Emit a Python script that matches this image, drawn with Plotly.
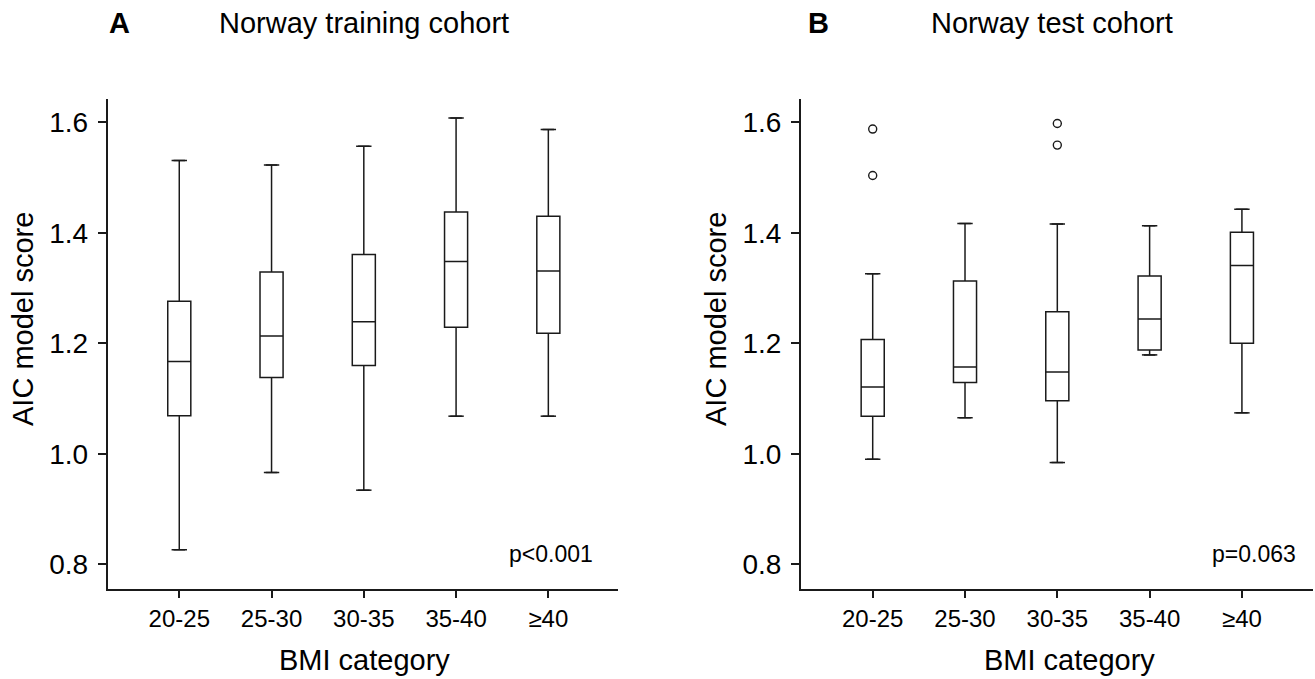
import plotly.graph_objects as go

categories = ["20-25", "25-30", "30-35", "35-40", "≥40"]

# Panel A: Norway training cohort
a_low = [0.826, 0.966, 0.934, 1.068, 1.068]
a_q1 = [1.069, 1.138, 1.160, 1.229, 1.218]
a_med = [1.167, 1.213, 1.239, 1.348, 1.331]
a_q3 = [1.276, 1.329, 1.361, 1.438, 1.430]
a_high = [1.531, 1.523, 1.557, 1.608, 1.587]

# Panel B: Norway test cohort
b_low = [0.990, 1.065, 0.984, 1.179, 1.074]
b_q1 = [1.068, 1.129, 1.096, 1.188, 1.200]
b_med = [1.121, 1.157, 1.148, 1.244, 1.341]
b_q3 = [1.207, 1.313, 1.257, 1.322, 1.401]
b_high = [1.326, 1.417, 1.416, 1.413, 1.443]
b_out_x = ["20-25", "20-25", "30-35", "30-35"]
b_out_y = [1.588, 1.504, 1.598, 1.559]

y_ticks = [0.8, 1.0, 1.2, 1.4, 1.6]
y_ticktext = ["0.8", "1.0", "1.2", "1.4", "1.6"]

W, H = 1315, 679
FONT = "Arial, Liberation Sans, sans-serif"
INK = "#1a1a1a"
TXT = "#000"

def px(x):
    return x / W

def py(y):
    return 1 - y / H

fig = go.Figure()

def add_panel(xa, ya, low, q1, med, q3, high):
    fig.add_trace(go.Box(
        x=categories, q1=q1, median=med, q3=q3,
        lowerfence=low, upperfence=high,
        xaxis=xa, yaxis=ya, width=0.25,
        fillcolor="white", line=dict(color=INK, width=1.5),
        boxpoints=False, showlegend=False, hoverinfo="skip",
    ))
    fig.add_trace(go.Scatter(
        x=categories + categories, y=low + high, mode="markers",
        xaxis=xa, yaxis=ya,
        marker=dict(symbol="line-ew", size=11, line=dict(color=INK, width=1.5)),
        showlegend=False, hoverinfo="skip",
    ))

add_panel("x", "y", a_low, a_q1, a_med, a_q3, a_high)
add_panel("x2", "y2", b_low, b_q1, b_med, b_q3, b_high)
fig.add_trace(go.Scatter(
    x=b_out_x, y=b_out_y, mode="markers", xaxis="x2", yaxis="y2",
    marker=dict(symbol="circle-open", size=8, color=INK, line=dict(width=1.4)),
    showlegend=False, hoverinfo="skip",
))

ydom = [py(589), py(98.7)]
xcommon = dict(
    type="category", categoryorder="array", categoryarray=categories,
    showline=True, linecolor=INK, linewidth=1.5,
    ticks="outside", ticklen=7, tickcolor=INK, tickwidth=1.5,
    showgrid=False, zeroline=False, ticklabelstandoff=0,
    tickfont=dict(family=FONT, size=24, color=TXT),
)
ycommon = dict(
    range=[0.755, 1.643], tickvals=y_ticks, ticktext=y_ticktext,
    showline=True, linecolor=INK, linewidth=1.5,
    ticks="outside", ticklen=8, tickcolor=INK, tickwidth=1.5,
    showgrid=False, zeroline=False, ticklabelstandoff=4,
    tickfont=dict(family=FONT, size=28, color=TXT),
)

fig.update_layout(
    width=W, height=H,
    margin=dict(l=0, r=0, t=0, b=0),
    paper_bgcolor="white", plot_bgcolor="white",
    xaxis=dict(domain=[px(107.5), px(618)], anchor="y", range=[-0.778, 4.755], **xcommon),
    yaxis=dict(domain=ydom, anchor="x", **ycommon),
    xaxis2=dict(domain=[px(800.7), px(1313)], anchor="y2", range=[-0.78, 4.77], **xcommon),
    yaxis2=dict(domain=ydom, anchor="x2", **ycommon),
)

def label(text, x, y, size, xanchor="left", angle=0):
    fig.add_annotation(text=text, x=px(x), y=py(y), xref="paper", yref="paper",
                       xanchor=xanchor, yanchor="middle", showarrow=False, textangle=angle,
                       font=dict(family=FONT, size=size, color=TXT))

label("<b>A</b>", 106.5, 23, 29)
label("Norway training cohort", 217, 23, 29)
label("<b>B</b>", 806, 23, 29)
label("Norway test cohort", 929, 23, 29)

label("AIC model score", 23, 319, 29, xanchor="center", angle=-90)
label("AIC model score", 716, 319, 29, xanchor="center", angle=-90)
label("BMI category", 364, 660, 29, xanchor="center")
label("BMI category", 1069, 660, 29, xanchor="center")

label("p<0.001", 595, 554, 23, xanchor="right")
label("p=0.063", 1297.5, 554, 23, xanchor="right")

fig.write_html(
    "out.html",
    config={"displayModeBar": False},
    post_script="document.body.style.margin='0';document.body.style.overflow='hidden';",
)
